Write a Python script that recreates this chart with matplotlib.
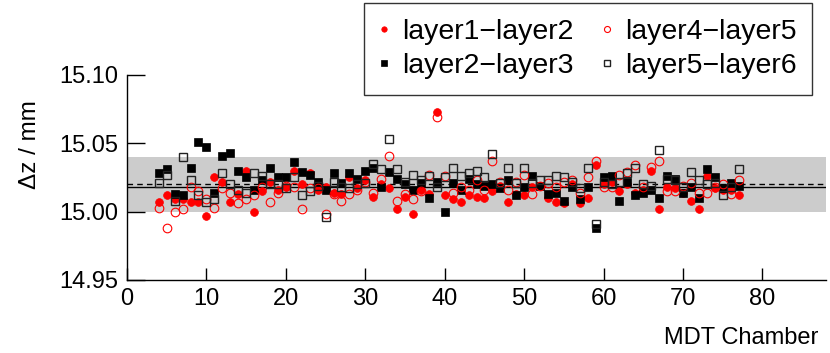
import numpy as np
import matplotlib
matplotlib.use("Agg")
import matplotlib.pyplot as plt

plt.rcParams['font.family'] = ['Liberation Sans', 'DejaVu Sans']

chambers = list(range(4, 78))

layer1_layer2 = [15.007, 15.012, 15.009, 15.009, 15.007, 15.007, 14.997, 15.025, 15.022, 15.007,
                 15.013, 15.030, 15.000, 15.015, 15.022, 15.016, 15.018, 15.030, 15.020, 15.028,
                 15.016, 15.018, 15.014, 15.013, 15.025, 15.017, 15.023, 15.011, 15.020, 15.017,
                 15.002, 15.011, 14.998, 15.016, 15.013, 15.073, 15.012, 15.009, 15.007, 15.012,
                 15.011, 15.010, 15.015, 15.019, 15.007, 15.013, 15.012, 15.018, 15.019, 15.010,
                 15.007, 15.006, 15.020, 15.006, 15.010, 15.034, 15.020, 15.022, 15.015, 15.020,
                 15.014, 15.016, 15.030, 15.002, 15.018, 15.017, 15.014, 15.008, 15.002, 15.026,
                 15.017, 15.016, 15.016, 15.012]

layer2_layer3 = [15.028, 15.031, 15.013, 15.012, 15.032, 15.051, 15.047, 15.014, 15.041, 15.043,
                 15.030, 15.025, 15.016, 15.023, 15.032, 15.025, 15.025, 15.036, 15.029, 15.027,
                 15.022, 15.016, 15.028, 15.021, 15.028, 15.024, 15.030, 15.032, 15.018, 15.029,
                 15.024, 15.020, 15.016, 15.021, 15.010, 15.022, 15.000, 15.021, 15.016, 15.024,
                 15.020, 15.019, 15.020, 15.017, 15.023, 15.012, 15.018, 15.026, 15.019, 15.013,
                 15.014, 15.008, 15.018, 15.009, 15.018, 14.988, 15.025, 15.026, 15.008, 15.022,
                 15.012, 15.014, 15.016, 15.010, 15.026, 15.024, 15.014, 15.018, 15.010, 15.031,
                 15.025, 15.017, 15.021, 15.019]

layer4_layer5 = [15.003, 14.988, 15.000, 15.002, 15.018, 15.015, 15.009, 15.003, 15.017, 15.014,
                 15.006, 15.009, 15.012, 15.018, 15.007, 15.014, 15.019, 15.018, 15.002, 15.017,
                 15.017, 14.998, 15.013, 15.008, 15.013, 15.016, 15.022, 15.014, 15.024, 15.041,
                 15.008, 15.013, 15.009, 15.015, 15.027, 15.069, 15.026, 15.014, 15.018, 15.016,
                 15.023, 15.016, 15.037, 15.022, 15.016, 15.022, 15.027, 15.013, 15.019, 15.021,
                 15.018, 15.022, 15.023, 15.014, 15.025, 15.037, 15.018, 15.018, 15.027, 15.029,
                 15.034, 15.018, 15.033, 15.037, 15.015, 15.015, 15.019, 15.021, 15.014, 15.014,
                 15.018, 15.020, 15.013, 15.023]

layer5_layer6 = [15.021, 15.027, 15.008, 15.040, 15.023, 15.012, 15.007, 15.009, 15.028, 15.020,
                 15.016, 15.014, 15.028, 15.026, 15.020, 15.020, 15.017, 15.025, 15.012, 15.015,
                 15.019, 14.996, 15.022, 15.018, 15.017, 15.020, 15.021, 15.035, 15.031, 15.053,
                 15.031, 15.022, 15.027, 15.023, 15.026, 15.018, 15.025, 15.032, 15.026, 15.028,
                 15.030, 15.025, 15.042, 15.021, 15.032, 15.021, 15.032, 15.021, 15.023, 15.023,
                 15.026, 15.025, 15.022, 15.017, 15.032, 14.991, 15.022, 15.020, 15.022, 15.028,
                 15.032, 15.020, 15.019, 15.045, 15.024, 15.023, 15.018, 15.029, 15.023, 15.020,
                 15.021, 15.012, 15.018, 15.031]

band_low, band_high = 15.00, 15.04
mean_solid = 15.018
mean_dashed = 15.020

x_ticks = [0, 10, 20, 30, 40, 50, 60, 70, 80]
y_ticks = [14.95, 15.00, 15.05, 15.10]
y_ticklabels = ["14.95", "15.00", "15.05", "15.10"]

fig = plt.figure(figsize=(8.3, 3.53), dpi=100)
ax = fig.add_axes([127/830, 1 - 280/353, (826 - 127)/830, (280 - 75)/353])

ax.axhspan(band_low, band_high, color='#cccccc', lw=0, zorder=0)
ax.axhline(mean_solid, color='black', lw=1.0, zorder=1)
ax.axhline(mean_dashed, color='black', lw=1.0, ls=(0, (4, 3)), zorder=1)

ms = 5.6
h1, = ax.plot(chambers, layer1_layer2, ls='none', marker='o', ms=ms, mfc='red', mec='red',
              mew=0.5, label='layer1\u2212layer2', zorder=3)
h2, = ax.plot(chambers, layer2_layer3, ls='none', marker='s', ms=ms, mfc='black', mec='black',
              mew=0.5, label='layer2\u2212layer3', zorder=4)
h3, = ax.plot(chambers, layer4_layer5, ls='none', marker='o', ms=ms + 0.6, mfc='none', mec='red',
              mew=0.8, label='layer4\u2212layer5', zorder=5)
h4, = ax.plot(chambers, layer5_layer6, ls='none', marker='s', ms=ms + 0.3, mfc='none', mec='#222222',
              mew=1.0, label='layer5\u2212layer6', zorder=6)

ax.set_xlim(0, 88)
ax.set_ylim(14.95, 15.10)
ax.set_xticks(x_ticks)
ax.set_yticks(y_ticks)
ax.set_yticklabels(y_ticklabels)
ax.tick_params(direction='in', length=9, width=1, labelsize=17, pad=6)
ax.tick_params(axis='y', length=13)
for s in ['top', 'right']:
    ax.spines[s].set_visible(False)
for s in ['left', 'bottom']:
    ax.spines[s].set_linewidth(1)

fig.text(30/830, 1 - 145/353, '\u0394z / mm', fontsize=17.5, rotation=90, ha='center', va='center')
fig.text(818/830, 1 - 338/353, 'MDT Chamber', fontsize=17, ha='right', va='center')

leg = fig.legend(handles=[h1, h2, h3, h4], ncol=2, loc='upper right',
                 bbox_to_anchor=(812/830, 1 - 3/353), fontsize=20.5, frameon=True,
                 fancybox=False, edgecolor='black', markerscale=0.7,
                 handlelength=0.35, handletextpad=0.45, columnspacing=1.0,
                 borderpad=0.55, labelspacing=0.3, borderaxespad=0)
leg.get_frame().set_linewidth(1.0)

fig.savefig('out.png', dpi=100)
